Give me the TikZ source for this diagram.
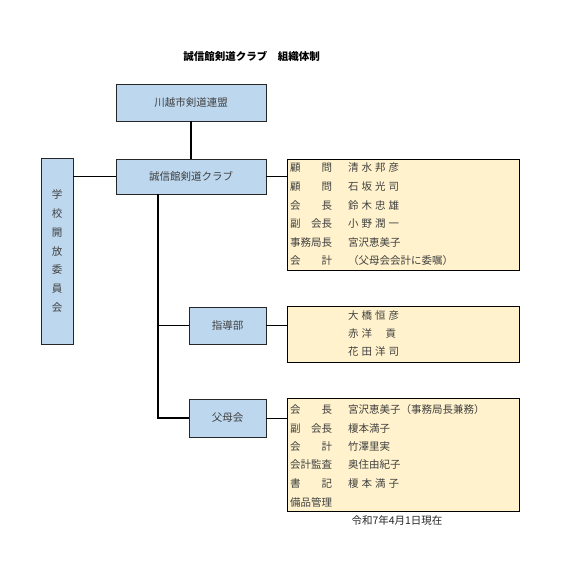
\documentclass[tikz,border=0pt]{standalone}
\usepackage{fontspec}
\setmainfont{Noto Sans CJK JP}
\newfontfamily\cjk{Noto Sans CJK JP}
\definecolor{boxblue}{HTML}{BDD7EE}
\definecolor{boxyellow}{HTML}{FFF2CC}
\definecolor{txtgray}{HTML}{404040}
\newcommand{\widesp}{\spaceskip=3pt\relax}
\begin{document}
\begin{tikzpicture}[x=1pt,y=-1pt,
  bluebox/.style={draw=black!85,line width=0.8pt,fill=boxblue,inner sep=0pt,
    font=\cjk\fontsize{10.5}{12}\selectfont,text=txtgray},
  infobox/.style={draw=black,line width=0.8pt,fill=boxyellow,inner sep=0pt},
  lab/.style={anchor=west,inner sep=0pt,font=\cjk\fontsize{10.5}{12}\selectfont,
    execute at begin node=\widesp,text=txtgray},
  conn/.style={draw=black,line width=1.8pt},
  thin/.style={draw=black,line width=0.8pt}]
\useasboundingbox (0,0) rectangle (575,586);
\fill[white] (0,0) rectangle (575,586);

\node[font=\cjk\bfseries\fontsize{10.5}{12}\selectfont] (title) at (251.5,56) {誠信館剣道クラブ　組織体制};

\node[bluebox,minimum width=150pt,minimum height=37pt] (fed) at (191,102.5) {川越市剣道連盟};
\node[bluebox,minimum width=150pt,minimum height=35pt] (club) at (191,176.5) {誠信館剣道クラブ};
\node[bluebox,minimum width=32pt,minimum height=186pt,align=center,
  font=\cjk\fontsize{10.5}{18.7}\selectfont] (school) at (57,251) {学\\校\\開\\放\\委\\員\\会};
\node[bluebox,minimum width=77pt,minimum height=37pt] (shido) at (227.5,325.5) {指導部};
\node[bluebox,minimum width=77pt,minimum height=38pt] (fubo) at (227.5,418) {父母会};

\node[infobox,minimum width=232pt,minimum height=111pt] (box1) at (403,214.5) {};
\node[infobox,minimum width=232pt,minimum height=56pt] (box2) at (403,334) {};
\node[infobox,minimum width=232pt,minimum height=113pt] (box3) at (403,454.5) {};

% connectors
\coordinate (jA) at (158,194);
\coordinate (jB) at (158,325.5);
\coordinate (jC) at (158,418);
\draw[conn] (fed.south) -- (club.north);
\draw[conn] (club.west) -- (club.west -| school.east);
\draw[conn] (club.south -| jA) -- (jC) -- (fubo.west);
\draw[conn] (jB) -- (shido.west);
\draw[thin] (club.east) -- (club.east -| box1.west);
\draw[thin] (shido.east) -- (shido.east -| box2.west);
\draw[thin] (fubo.east) -- (fubo.east -| box3.west);

% box1 text
\node[lab] (l11) at (290,168) {顧　　問};
\node[lab] (n11) at (348,168) {清 水 邦 彦};
\node[lab] (l12) at (290,187) {顧　　問};
\node[lab] (n12) at (348,187) {石 坂 光 司};
\node[lab] (l13) at (290,205.5) {会　　長};
\node[lab] (n13) at (348,205.5) {鈴 木 忠 雄};
\node[lab] (l14) at (290,224) {副　会長};
\node[lab] (n14) at (348,224) {小 野 潤 一};
\node[lab] (l15) at (290,242.5) {事務局長};
\node[lab] (n15) at (348,242.5) {宮沢恵美子};
\node[lab] (l16) at (290,261) {会　　計};
\node[lab] (n16) at (348,261) {（父母会会計に委嘱）};

% box2 text
\node[lab] (n21) at (348,316) {大 橋 恒 彦};
\node[lab] (n22) at (348,334) {赤 洋　 貢};
\node[lab] (n23) at (348,352) {花 田 洋 司};

% box3 text
\node[lab] (l31) at (290,410) {会　　長};
\node[lab] (n31) at (348,410) {宮沢恵美子（事務局長兼務）};
\node[lab] (l32) at (290,428.5) {副　会長};
\node[lab] (n32) at (348,428.5) {榎本満子};
\node[lab] (l33) at (290,447) {会　　計};
\node[lab] (n33) at (348,447) {竹澤里実};
\node[lab] (l34) at (290,465) {会計監査};
\node[lab] (n34) at (348,465) {奥住由紀子};
\node[lab] (l35) at (290,483.5) {書　　記};
\node[lab] (n35) at (348,483.5) {榎 本 満 子};
\node[lab] (l36) at (290,502) {備品管理};

\node[font=\cjk\fontsize{10.5}{12}\selectfont,text=black!85] (date) at (397,521) {令和7年4月1日現在};
\end{tikzpicture}
\end{document}
